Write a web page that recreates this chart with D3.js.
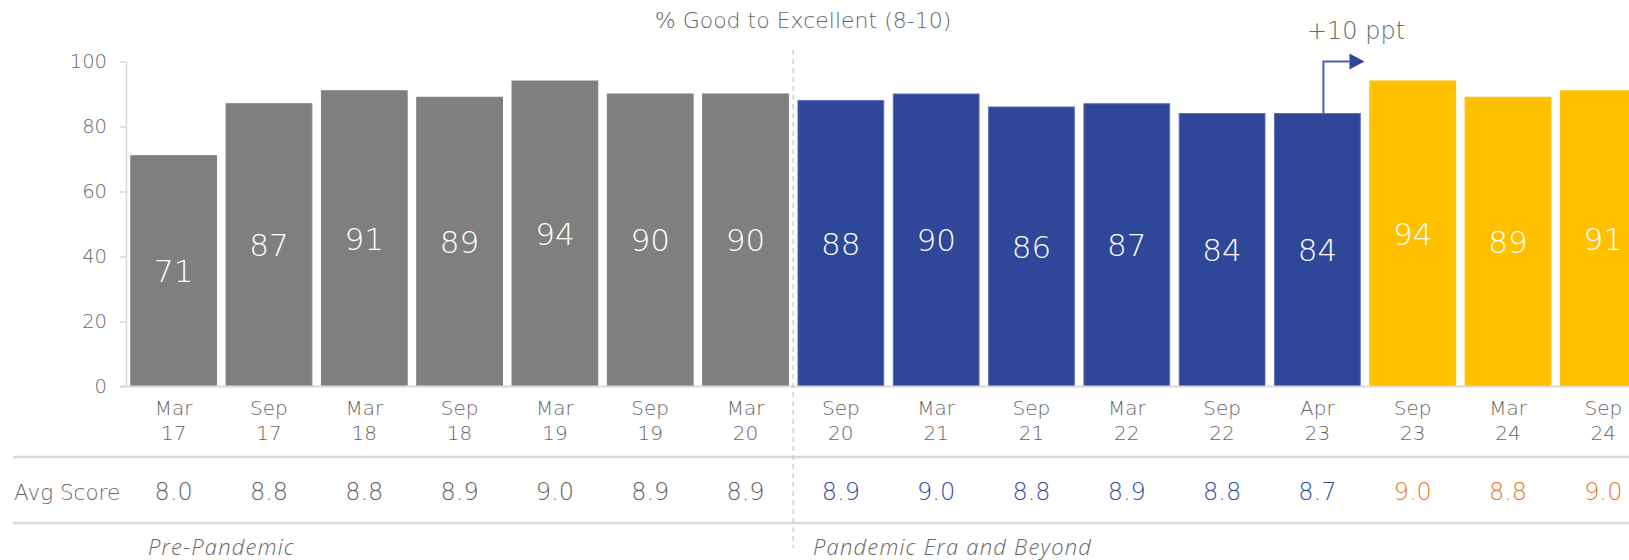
<!DOCTYPE html>
<html>
<head>
<meta charset="utf-8">
<script src="https://cdn.jsdelivr.net/npm/d3@7"></script>
<style>
  html, body { margin: 0; padding: 0; background: #ffffff; }
  svg { display: block; font-family: "DejaVu Sans", "Noto Sans", sans-serif; font-weight: 200; }
</style>
</head>
<body>
<svg id="chart" width="1629" height="560"></svg>
<script>
// Survey waves
const months = ["Mar", "Sep", "Mar", "Sep", "Mar", "Sep", "Mar", "Sep", "Mar", "Sep", "Mar", "Sep", "Apr", "Sep", "Mar", "Sep"];
const years  = ["17", "17", "18", "18", "19", "19", "20", "20", "21", "21", "22", "22", "23", "23", "24", "24"];
// % rating Good to Excellent (8-10)
const goodToExcellent = [71, 87, 91, 89, 94, 90, 90, 88, 90, 86, 87, 84, 84, 94, 89, 91];
// Average score per wave
const avgScore = [8.0, 8.8, 8.8, 8.9, 9.0, 8.9, 8.9, 8.9, 9.0, 8.8, 8.9, 8.8, 8.7, 9.0, 8.8, 9.0];
// Period each wave belongs to
const period = ["pre", "pre", "pre", "pre", "pre", "pre", "pre",
                "pandemic", "pandemic", "pandemic", "pandemic", "pandemic", "pandemic",
                "recent", "recent", "recent"];
const yTicks = [0, 20, 40, 60, 80, 100];

const barColor   = { pre: "#7f7f7f", pandemic: "#2f4799", recent: "#ffc000" };
const barStroke  = { pre: "#7f7f7f", pandemic: "#5d70bb", recent: "#ffc000" };
const scoreColor = { pre: "#5f5f5f", pandemic: "#2f4aa6", recent: "#ec7527" };
const textGrey = "#666666";
const ruleGrey = "#d9d9d9";
const FONT = "'DejaVu Sans', 'Noto Sans', sans-serif";

const svg = d3.select("#chart");
const keys = d3.range(goodToExcellent.length);

const x = d3.scaleBand()
  .domain(keys)
  .range([126, 1651])
  .paddingInner(0.1)
  .paddingOuter(0.05);

const y = d3.scaleLinear().domain([0, 100]).range([386.5, 61.5]);

// Title
svg.append("text")
  .attr("x", 803).attr("y", 28)
  .attr("text-anchor", "middle")
  .attr("font-size", 22)
  .attr("fill", textGrey)
  .text("% Good to Excellent (8-10)");

// Y axis
const yAxis = svg.append("g")
  .attr("transform", "translate(126,0)")
  .call(d3.axisLeft(y).tickValues(yTicks).tickSize(6).tickSizeOuter(0).tickPadding(13));
yAxis.select(".domain").attr("stroke", ruleGrey).attr("stroke-width", 1.5);
yAxis.selectAll(".tick line").attr("stroke", ruleGrey).attr("stroke-width", 1.5);
yAxis.selectAll(".tick text")
  .attr("font-size", 19.5)
  .attr("font-family", FONT)
  .attr("font-weight", 200)
  .attr("fill", textGrey);

// Bars
svg.append("g").selectAll("rect")
  .data(keys)
  .join("rect")
  .attr("x", i => x(i))
  .attr("y", i => y(goodToExcellent[i]))
  .attr("width", x.bandwidth())
  .attr("height", i => y(0) - y(goodToExcellent[i]))
  .attr("fill", i => barColor[period[i]])
  .attr("stroke", i => barStroke[period[i]])
  .attr("stroke-width", 1);

// Baseline
svg.append("line")
  .attr("x1", 120).attr("x2", 1629)
  .attr("y1", y(0)).attr("y2", y(0))
  .attr("stroke", ruleGrey).attr("stroke-width", 2);

// Value labels centred in each bar
svg.append("g").selectAll("text")
  .data(keys)
  .join("text")
  .attr("x", i => x(i) + x.bandwidth() / 2)
  .attr("y", i => (y(goodToExcellent[i]) + y(0)) / 2)
  .attr("dy", "0.36em")
  .attr("text-anchor", "middle")
  .attr("font-size", 31)
  .attr("fill", "#ffffff")
  .text(i => goodToExcellent[i]);

// Category labels
const cat = svg.append("g").selectAll("text")
  .data(keys)
  .join("text")
  .attr("text-anchor", "middle")
  .attr("font-size", 20)
  .attr("fill", textGrey);
cat.append("tspan")
  .attr("x", i => x(i) + x.bandwidth() / 2)
  .attr("y", 415)
  .text(i => months[i]);
cat.append("tspan")
  .attr("x", i => x(i) + x.bandwidth() / 2)
  .attr("y", 440)
  .text(i => years[i]);

// Table rules
[457, 523].forEach(ry => {
  svg.append("line")
    .attr("x1", 13).attr("x2", 1629)
    .attr("y1", ry).attr("y2", ry)
    .attr("stroke", ruleGrey).attr("stroke-width", 2.5);
});

// Avg score row
svg.append("text")
  .attr("x", 14).attr("y", 500)
  .attr("font-size", 21.5)
  .attr("fill", textGrey)
  .text("Avg Score");
svg.append("g").selectAll("text")
  .data(keys)
  .join("text")
  .attr("x", i => x(i) + x.bandwidth() / 2)
  .attr("y", 500)
  .attr("text-anchor", "middle")
  .attr("font-size", 24)
  .attr("fill", i => scoreColor[period[i]])
  .text(i => avgScore[i].toFixed(1));

// Period divider between Mar 20 and Sep 20
const divX = (x(6) + x.bandwidth() + x(7)) / 2;
svg.append("line")
  .attr("x1", divX).attr("x2", divX)
  .attr("y1", 50).attr("y2", 548)
  .attr("stroke", "#c4c4c4")
  .attr("stroke-width", 1.2)
  .attr("stroke-dasharray", "5,4");

// Period labels
const periodLabel = (px, label) => svg.append("text")
  .attr("x", px).attr("y", 555)
  .attr("font-family", "'Open Sans', 'DejaVu Sans', sans-serif")
  .attr("font-weight", 300)
  .attr("font-size", 22)
  .attr("letter-spacing", 1.2)
  .attr("font-style", "italic")
  .attr("fill", textGrey)
  .text(label);
periodLabel(148, "Pre-Pandemic");
periodLabel(813, "Pandemic Era and Beyond");

// +10 ppt callout from Apr 23 to Sep 23
const ax = x(12) + x.bandwidth() * 0.57;
const ay = y(100);
const tipX = ax + 26;
svg.append("path")
  .attr("d", `M${ax},${y(goodToExcellent[12])}V${ay}H${tipX}`)
  .attr("fill", "none")
  .attr("stroke", "#4a5fb0")
  .attr("stroke-width", 2);
svg.append("path")
  .attr("d", `M${tipX},${ay - 8}L${tipX + 15},${ay}L${tipX},${ay + 8}Z`)
  .attr("fill", "#2f4799");
svg.append("text")
  .attr("x", 1356).attr("y", 39)
  .attr("text-anchor", "middle")
  .attr("font-size", 24)
  .attr("fill", textGrey)
  .text("+" + (goodToExcellent[13] - goodToExcellent[12]) + " ppt");
</script>
</body>
</html>
